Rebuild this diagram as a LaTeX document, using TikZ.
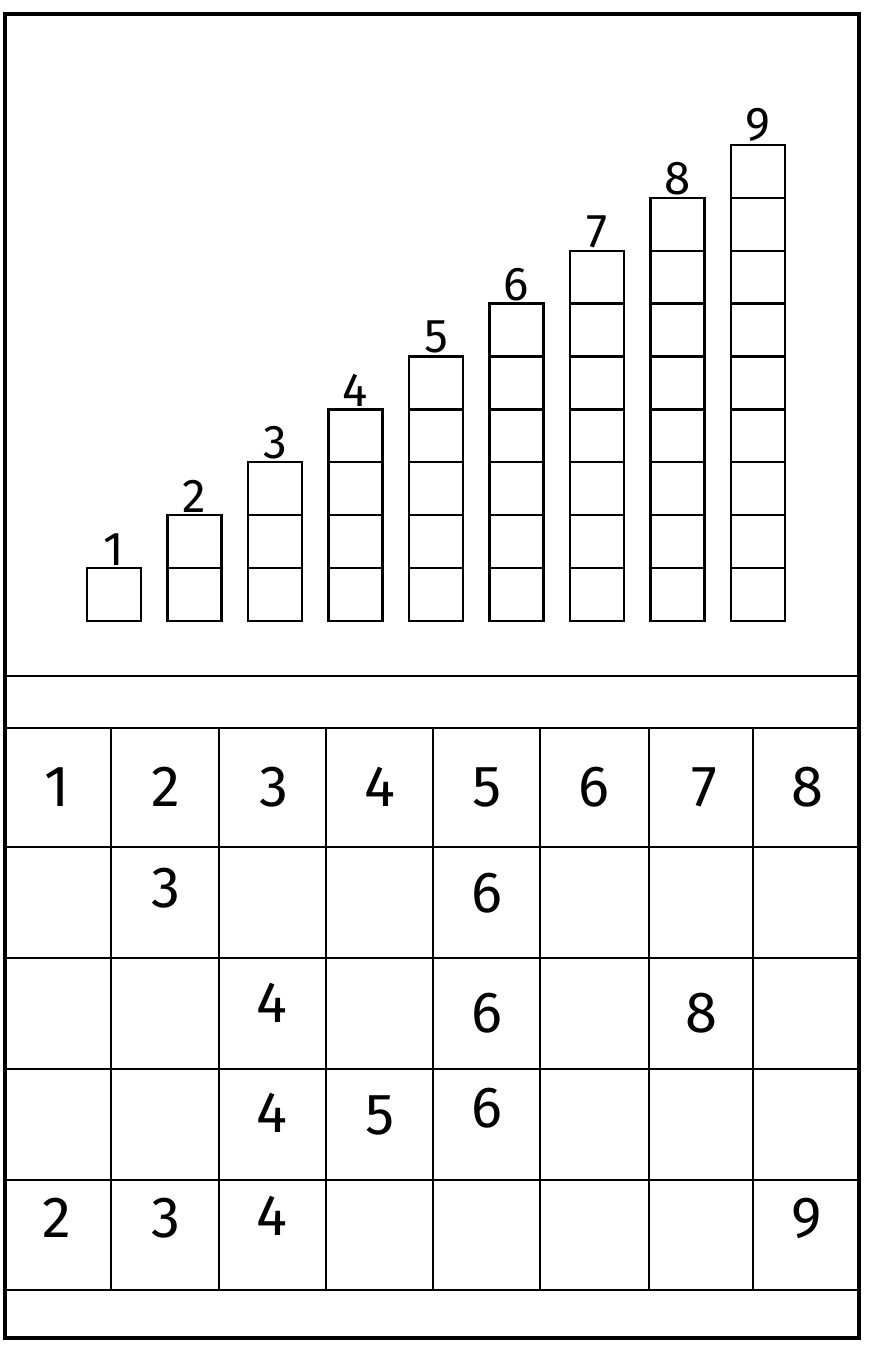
\documentclass[tikz,border=0pt]{standalone}
\usepackage{fontspec}
\setmainfont{Fira Sans}

\begin{document}
\begin{tikzpicture}[x=0.02cm, y=-0.02cm,
  frame/.style={line width=2pt},
  rule/.style={line width=1.2pt},
  box/.style={line width=1.3pt},
  steplabel/.style={font=\fontsize{27}{27}\selectfont, anchor=south, inner sep=1.5pt},
  digit/.style={font=\fontsize{33}{33}\selectfont, inner sep=0pt}]

  \useasboundingbox (0,0) rectangle (873,1346);

  % Outer frame of the sheet.
  \draw[frame] (5,14) rectangle (859,1338);

  % Staircase of unit cubes: column n is a tower of n cells, numbered on top.
  \foreach \n in {1,...,9} {
    \pgfmathsetmacro{\xl}{87+80.5*(\n-1)}
    \pgfmathsetmacro{\xr}{\xl+54}
    \pgfmathsetmacro{\yt}{621-52.9*\n}
    \foreach \k in {1,...,\n} {
      \draw[box] (\xl,{621-52.9*(\k-1)}) rectangle (\xr,{621-52.9*\k});
    }
    \node[steplabel] (tower\n) at ({\xl+27},\yt) {\n};
  }

  % Blank band and the table below it.
  \draw[rule] (5,676) -- (859,676);
  \foreach \y in {728,847,958,1069,1180,1290}
    \draw[rule] (5,\y) -- (859,\y);
  \foreach \x in {111,219,326,433,540,649,753}
    \draw[rule] (\x,728) -- (\x,1290);

  % Numbers written in the table (x centre / y centre / digit).
  \foreach \x/\y/\d [count=\i] in {
      57/787/1, 166/787/2, 274/787/3, 380/787/4,
      487/787/5, 594/787/6, 704/787/7, 807/787/8,
      166/888/3, 487/893/6,
      272/1003/4, 487/1013/6, 701/1013/8,
      272/1113/4, 380/1115/5, 487/1108/6,
      57/1218/2, 166/1218/3, 272/1216/4, 807/1218/9} {
    \node[digit] (num\i) at (\x,\y) {\d};
  }

\end{tikzpicture}
\end{document}
